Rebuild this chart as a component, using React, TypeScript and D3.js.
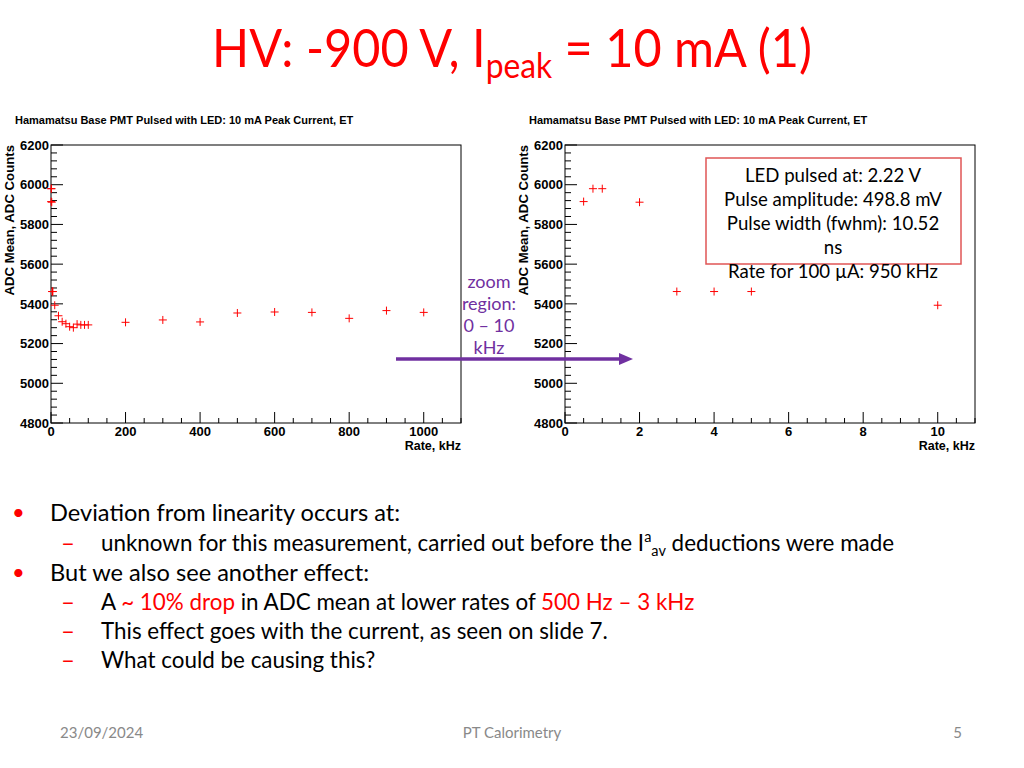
import * as d3 from "d3";

// low-rate points (kHz) shown in both panels
const rateLow = [0.5, 0.75, 1, 2, 3, 4, 5, 10];
const adcLow = [5915, 5980, 5980, 5912, 5462, 5462, 5462, 5393];

// remaining points of the full scan (kHz)
const rateHigh = [20, 30, 40, 50, 60, 70, 80, 90, 100, 200, 300, 400, 500, 600, 700, 800, 900, 1000];
const adcHigh = [5340, 5310, 5300, 5285, 5280, 5298, 5294, 5294, 5294, 5307, 5319, 5309, 5354, 5359, 5357, 5327, 5366, 5357];

const yTicks = [4800, 5000, 5200, 5400, 5600, 5800, 6000, 6200];
const legendLines = [
  "LED pulsed at: 2.22 V",
  "Pulse amplitude: 498.8 mV",
  "Pulse width (fwhm): 10.52",
  "ns",
  "Rate for 100 \u00b5A: 950 kHz",
];
const zoomLines = ["zoom", "region:", "0 \u2013 10", "kHz"];

const chartTitle = "Hamamatsu Base PMT Pulsed with LED: 10 mA Peak Current, ET";
const RED = "#ff0000";
const PURPLE = "#7030a0";
const SLIDE_FONT = "Lato, 'Open Sans', sans-serif";
const ROOT_FONT = "'Liberation Sans', Arial, sans-serif";

const Panel = ({ left, xMax, xMajor, xMinor, rates, adc }: any) => {
  const top = 145,
    bottom = 423,
    w = 410;
  const x = d3.scaleLinear().domain([0, xMax]).range([left, left + w]);
  const y = d3.scaleLinear().domain([4800, 6200]).range([bottom, top]);
  const xt = d3.range(0, xMax + 1e-9, xMinor);
  const yt = d3.range(4800, 6200 + 1e-9, 40);
  const isMajor = (v: number, step: number) => Math.abs(v / step - Math.round(v / step)) < 1e-6;

  return (
    <g>
      <text x={left - 36} y={124} fontFamily={ROOT_FONT} fontWeight="bold" fontSize={11}>
        {chartTitle}
      </text>
      <rect x={left} y={top} width={w} height={bottom - top} fill="none" stroke="#000" strokeWidth={1} />
      {yt.map((v) => (
        <line
          key={"y" + v}
          x1={left}
          x2={left + (isMajor(v, 200) ? 12 : 6)}
          y1={y(v)}
          y2={y(v)}
          stroke="#000"
        />
      ))}
      {yTicks.map((v) => (
        <text
          key={"yl" + v}
          x={left - 2}
          y={y(v)}
          dy="0.36em"
          textAnchor="end"
          fontFamily={ROOT_FONT}
          fontWeight="bold"
          fontSize={13}
        >
          {v}
        </text>
      ))}
      {xt.map((v) => (
        <line
          key={"x" + v}
          x1={x(v)}
          x2={x(v)}
          y1={bottom}
          y2={bottom - (isMajor(v, xMajor) ? 11 : 5)}
          stroke="#000"
        />
      ))}
      {xt
        .filter((v) => isMajor(v, xMajor))
        .map((v) => (
          <text
            key={"xl" + v}
            x={x(v)}
            y={436}
            textAnchor="middle"
            fontFamily={ROOT_FONT}
            fontWeight="bold"
            fontSize={13}
          >
            {v}
          </text>
        ))}
      <text x={left + w} y={450} textAnchor="end" fontFamily={ROOT_FONT} fontWeight="bold" fontSize={12.5}>
        Rate, kHz
      </text>
      <text
        transform={`translate(${left - 37},${top}) rotate(-90)`}
        textAnchor="end"
        fontFamily={ROOT_FONT}
        fontWeight="bold"
        fontSize={13.2}
      >
        ADC Mean, ADC Counts
      </text>
      {rates.map((r: number, i: number) => (
        <path
          key={"p" + i}
          d={`M${x(r) - 4},${y(adc[i])}h8M${x(r)},${y(adc[i]) - 4}v8`}
          stroke={RED}
          strokeWidth={1}
          fill="none"
        />
      ))}
    </g>
  );
};

export default function App() {
  const rateAll = rateLow.concat(rateHigh);
  const adcAll = adcLow.concat(adcHigh);
  const bodyY = [521, 551, 581, 610, 639, 668];
  const dash = (i: number) => (
    <text x={61} y={bodyY[i]} fontSize={24} fill={RED}>
      {"\u2013"}
    </text>
  );
  const bullet = (i: number) => (
    <text x={12} y={bodyY[i] - 1} fontSize={22} fill={RED}>
      {"\u2022"}
    </text>
  );

  return (
    <div style={{ position: "absolute", left: 0, top: 0 }}>
      <svg width={1024} height={768} style={{ display: "block", background: "#fff" }}>
        <g transform="translate(512,0) scale(0.935,1)">
          <text x={0} y={67} textAnchor="middle" fontFamily={SLIDE_FONT} fontSize={52} fill={RED}>
            HV: -900 V, I
            <tspan fontSize={34} dy={11}>
              peak
            </tspan>
            <tspan dy={-11}> = 10 mA (1)</tspan>
          </text>
        </g>

        <Panel left={51} xMax={1100} xMajor={200} xMinor={50} rates={rateAll} adc={adcAll} />
        <Panel left={565} xMax={11} xMajor={2} xMinor={0.5} rates={rateLow} adc={adcLow} />

        <rect x={706} y={158} width={255} height={106} fill="none" stroke="#e05555" strokeWidth={1.5} />
        {legendLines.map((t, i) => (
          <text
            key={t}
            x={833}
            y={182 + i * 24}
            textAnchor="middle"
            fontFamily={SLIDE_FONT}
            fontSize={18.6}
            fill="#000"
          >
            {t}
          </text>
        ))}

        {zoomLines.map((t, i) => (
          <text key={t} x={489} y={288 + i * 22} textAnchor="middle" fontFamily={SLIDE_FONT} fontSize={18} fill={PURPLE}>
            {t}
          </text>
        ))}
        <line x1={396} x2={620} y1={359} y2={359} stroke={PURPLE} strokeWidth={3.5} />
        <path d="M619,353L633,359L619,365Z" fill={PURPLE} />

        <g fontFamily={SLIDE_FONT} fill="#000">
          {bullet(0)}
          <text x={50} y={bodyY[0]} fontSize={23.6}>
            Deviation from linearity occurs at:
          </text>
          {dash(1)}
          <text x={101} y={bodyY[1]} fontSize={22.4}>
            unknown for this measurement, carried out before the I
            <tspan fontSize={14.5} dy={-9}>
              a
            </tspan>
            <tspan fontSize={14.5} dy={14}>
              av
            </tspan>
            <tspan dy={-5}> deductions were made</tspan>
          </text>
          {bullet(2)}
          <text x={50} y={bodyY[2]} fontSize={23.6}>
            But we also see another effect:
          </text>
          {dash(3)}
          <text x={101} y={bodyY[3]} fontSize={22.4}>
            A <tspan fill={RED}>~ 10% drop</tspan> in ADC mean at lower rates of{" "}
            <tspan fill={RED}>500 Hz {"\u2013"} 3 kHz</tspan>
          </text>
          {dash(4)}
          <text x={101} y={bodyY[4]} fontSize={22.4}>
            This effect goes with the current, as seen on slide 7.
          </text>
          {dash(5)}
          <text x={101} y={bodyY[5]} fontSize={22.4}>
            What could be causing this?
          </text>
        </g>

        <g fontFamily={SLIDE_FONT} fontSize={15} fill="#898989">
          <text x={60} y={738}>
            23/09/2024
          </text>
          <text x={512} y={738} textAnchor="middle">
            PT Calorimetry
          </text>
          <text x={962} y={738} textAnchor="end">
            5
          </text>
        </g>
      </svg>
    </div>
  );
}
